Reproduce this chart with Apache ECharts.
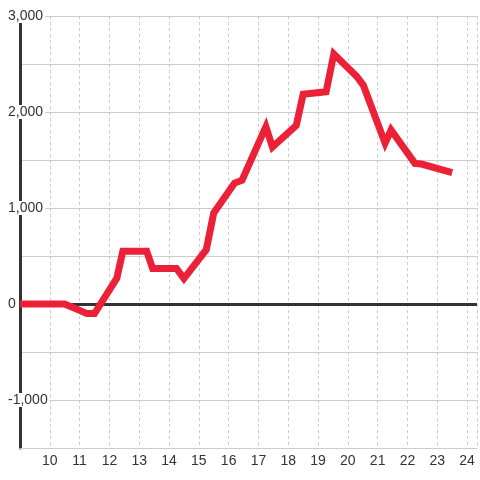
<!DOCTYPE html>
<html><head><meta charset="utf-8">
<script src="https://cdn.jsdelivr.net/npm/echarts@6/dist/echarts.min.js"></script>
<style>html,body{margin:0;padding:0;background:#fff}#c{width:480px;height:480px}</style>
</head><body><div id="c"></div>
<script>
var hours = [9.0, 10.5, 11.25, 11.5, 12.25, 12.45, 13.25, 13.45, 14.25, 14.5, 15.25, 15.5, 16.2, 16.45, 17.25, 17.47, 18.27, 18.5, 19.27, 19.53, 20.3, 20.52, 21.25, 21.45, 22.25, 22.47, 23.5];
var values = [0, 0, -100, -100, 270, 550, 550, 370, 370, 265, 565, 948, 1260, 1290, 1847, 1635, 1860, 2185, 2210, 2605, 2370, 2278, 1675, 1812, 1465, 1458, 1368];
var yTickLabels = ['-1,000', '0', '1,000', '2,000', '3,000'];
var xTickLabels = ['10','11','12','13','14','15','16','17','18','19','20','21','22','23','24'];

var chart = echarts.init(document.getElementById('c'), null, {renderer: 'canvas'});
var font = 'Liberation Sans, Arial, sans-serif';
chart.setOption({
  backgroundColor: '#fff',
  animation: false,
  grid: {left: 20, right: 0, top: 16, bottom: 32, containLabel: false},
  xAxis: {
    type: 'value', min: 9, max: 24 + 1/3, interval: 1,
    axisLine: {onZero: false, lineStyle: {color: '#ccc', width: 1}},
    axisTick: {show: false},
    axisLabel: {
      color: '#333', fontSize: 14, fontFamily: font, margin: 6,
      showMinLabel: false, showMaxLabel: true,
      formatter: function (v) {
        var s = String(Math.round(v));
        return (Math.abs(v - Math.round(v)) < 1e-6 && xTickLabels.indexOf(s) >= 0) ? s : '';
      }
    },
    splitLine: {show: true, lineStyle: {color: '#ccc', width: 1, type: [3, 3]}}
  },
  yAxis: {
    type: 'value', min: -1500, max: 3000, interval: 500,
    axisLine: {show: true, onZero: false, lineStyle: {color: '#333', width: 3}},
    axisTick: {show: false},
    axisLabel: {
      margin: 13, align: 'left', fontSize: 14, fontFamily: font, color: '#333',
      formatter: function (v) {
        if (v % 1000 !== 0) return '';
        var s = (v < 0 ? '-' : '') + Math.abs(v).toLocaleString('en-US');
        return yTickLabels.indexOf(s) >= 0 ? '{a|' + s + '}' : '';
      },
      rich: {a: {fontSize: 14, fontFamily: font, color: '#333', backgroundColor: '#fff', lineHeight: 16, padding: [0, 2, 0, 1]}}
    },
    splitLine: {show: true, lineStyle: {color: '#ccc', width: 1}}
  },
  series: [{
    type: 'line', data: [], z: 1, silent: true,
    markLine: {
      silent: true, symbol: 'none', label: {show: false},
      lineStyle: {color: '#333', width: 3, type: 'solid'},
      data: [{yAxis: 0}]
    }
  }, {
    type: 'line',
    data: hours.map(function (h, i) { return [h, values[i]]; }),
    symbol: 'none',
    lineStyle: {color: '#ec2138', width: 7, join: 'miter', cap: 'butt'},
    z: 5
  }]
});
</script></body></html>
